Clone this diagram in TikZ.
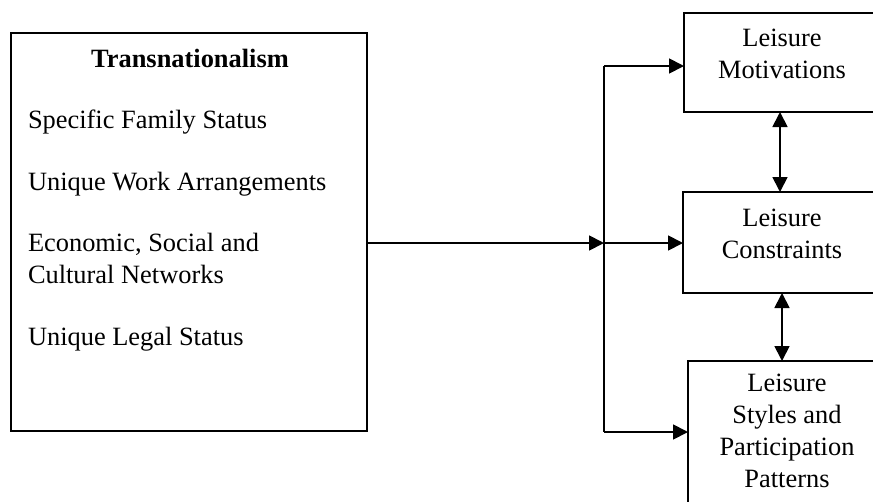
\documentclass[tikz,border=0pt]{standalone}
\usepackage{fontspec}
\setmainfont{Liberation Serif}
\usetikzlibrary{arrows.meta}
\begin{document}
\begin{tikzpicture}[x=1pt,y=-1pt,
  every node/.style={font=\fontsize{26.4}{32}\selectfont, inner sep=0pt, outer sep=0pt},
  frame/.style={draw, line width=1.8pt, minimum width=#1, inner sep=0pt},
  item/.style={anchor=base west, align=left},
  caption/.style={align=center},
  link/.style={line width=1.8pt, -{Triangle[length=15pt,width=15pt]}},
  twoway/.style={line width=1.8pt, {Triangle[length=15pt,width=15pt]}-{Triangle[length=15pt,width=15pt]}}]
\useasboundingbox (0,0) rectangle (873,501);
\begin{scope}
\clip (0,0) rectangle (873,501);

% factor box on the left
\node[frame=356pt, minimum height=398pt] (trans) at (189,232) {};
\node[font=\fontsize{26.4}{32}\selectfont\bfseries, anchor=base] (title) at (190,67) {Transnationalism};
\node[item] (family) at (28,128) {Specific Family Status};
\node[item] (work) at (28,190) {Unique Work Arrangements};
\node[item] (networks) at (28,283) {Economic, Social and\\Cultural Networks};
\node[item] (legal) at (28,345) {Unique Legal Status};

% outcome boxes on the right
\node[frame=196pt, minimum height=99pt] (motiv) at (782,62.5) {};
\node[caption] (motivtxt) at (782,54) {Leisure\\Motivations};
\node[frame=198pt, minimum height=101pt] (constr) at (782,242.5) {};
\node[caption] (constrtxt) at (782,234) {Leisure\\Constraints};
\node[frame=198pt, minimum height=142pt] (styles) at (787,432) {};
\node[caption] (stylestxt) at (787,431) {Leisure\\Styles and\\Participation\\Patterns};

% branching connectors
\coordinate (split) at (604,243);
\coordinate (upper) at (604,66);
\coordinate (lower) at (604,432);
\draw[link] (trans.east |- split) -- (split);
\draw[line width=1.8pt] (upper) -- (lower);
\draw[link] (split) -- (constr.west |- split);
\draw[link] (upper) -- (motiv.west |- upper);
\draw[link] (lower) -- (styles.west |- lower);

% mutual links between outcomes
\draw[twoway] (motiv.south -| 780,0) -- (constr.north -| 780,0);
\draw[twoway] (constr.south -| 782,0) -- (styles.north -| 782,0);
\end{scope}
\end{tikzpicture}
\end{document}
